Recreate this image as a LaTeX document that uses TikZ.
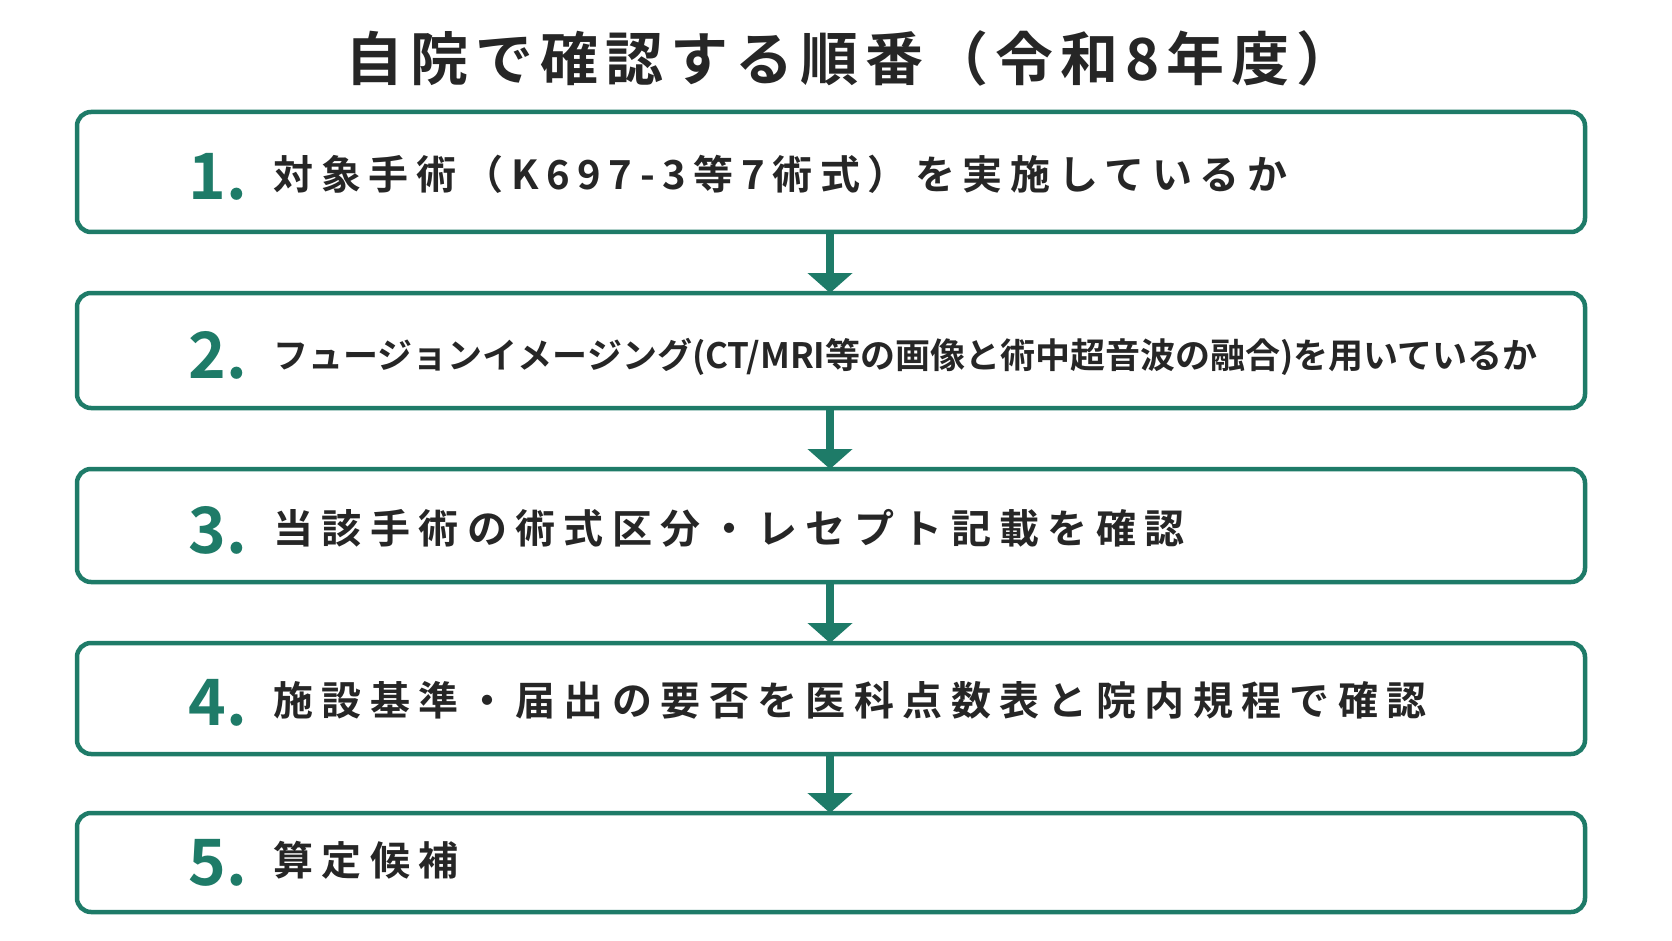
\documentclass[tikz,border=0pt]{standalone}
\usepackage{fontspec}
\setmainfont{Noto Sans CJK JP}[BoldFont={* Bold}]
\usetikzlibrary{arrows.meta}
\definecolor{tg}{HTML}{1E7B68}
\definecolor{tx}{HTML}{262626}
\begin{document}
\begin{tikzpicture}[x=1pt,y=-1pt,
 box/.style={draw=tg,line width=4.5pt,rounded corners=14pt,fill=white},
 num/.style={anchor=base,text=tg,font=\fontsize{64}{64}\selectfont\bfseries},
 lab/.style={anchor=base west,text=tx,font=\fontsize{40}{40}\selectfont\bfseries\addfontfeature{LetterSpace=21}},
 arr/.style={-{Triangle[length=20pt,width=44pt]},draw=tg,line width=8pt}]
\useasboundingbox (0,0) rectangle (1672,941);
\fill[white] (0,0) rectangle (1672,941);
\node[text=tx,font=\fontsize{58}{58}\selectfont\bfseries\addfontfeature{LetterSpace=12}] (t) at (850,58) {自院で確認する順番（令和8年度）};
\draw[box] (77,112) rectangle (1585,232); \coordinate (b1t) at (830,112); \coordinate (b1b) at (830,232);
\draw[box] (77,293) rectangle (1585,408); \coordinate (b2t) at (830,293); \coordinate (b2b) at (830,408);
\draw[box] (77,469) rectangle (1585,582); \coordinate (b3t) at (830,469); \coordinate (b3b) at (830,582);
\draw[box] (77,643) rectangle (1585,754); \coordinate (b4t) at (830,643); \coordinate (b4b) at (830,754);
\draw[box] (77,813) rectangle (1585,912); \coordinate (b5t) at (830,813);
\draw[arr] (b1b) -- (b2t);
\draw[arr] (b2b) -- (b3t);
\draw[arr] (b3b) -- (b4t);
\draw[arr] (b4b) -- (b5t);
\node[num] (n1) at (218,200) {1.};
\node[num] (n2) at (218,378) {2.};
\node[num] (n3) at (218,553) {3.};
\node[num] (n4) at (218,725) {4.};
\node[num] (n5) at (218,885) {5.};
\node[lab,font=\fontsize{40}{40}\selectfont\bfseries\addfontfeature{LetterSpace=19}] (l1) at (270,190) {対象手術（K697-3等7術式）を実施しているか};
\node[lab,font=\fontsize{35}{35}\selectfont\bfseries] (l2) at (270,368) {フュージョンイメージング(CT/MRI等の画像と術中超音波の融合)を用いているか};
\node[lab] (l3) at (270,543) {当該手術の術式区分・レセプト記載を確認};
\node[lab] (l4) at (270,715) {施設基準・届出の要否を医科点数表と院内規程で確認};
\node[lab] (l5) at (270,875) {算定候補};
\end{tikzpicture}
\end{document}
